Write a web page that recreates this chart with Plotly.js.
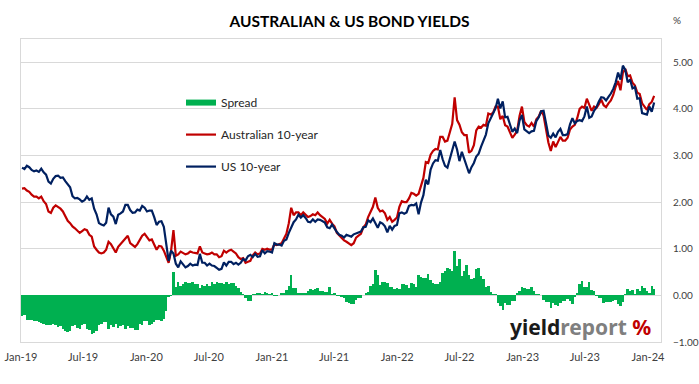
<!DOCTYPE html>
<html>
<head>
<meta charset="utf-8">
<script src="https://cdn.plot.ly/plotly-3.0.1.min.js"></script>
<style>html,body{margin:0;padding:0;background:#fff;}#chart{width:699px;height:384px;}</style>
</head>
<body>
<div id="chart"></div>
<script>
// Weekly observations (Fridays), starting 4 Jan 2019
const startDate = '2019-01-04';

const us2019 = [2.74,2.71,2.78,2.75, 2.69,2.66,2.68,2.65, 2.72,2.64,2.59,2.44,2.40, 2.50,2.56,2.57,2.52, 2.53,2.45,2.39,2.32,2.13, 2.08,2.09,2.06,2.01, 2.04,2.12,2.05,2.08, 1.86,1.74,1.55,1.52,1.50, 1.56,1.88,1.74,1.69, 1.53,1.73,1.76,1.80, 1.94,1.94,1.83,1.77,1.78, 1.84,1.82,1.92,1.88];
const us2020 = [1.80,1.82,1.82,1.68,1.51, 1.58,1.59,1.47,1.15, 0.74,0.96,0.90,0.68, 0.60,0.73,0.65,0.60, 0.63,0.68,0.64,0.66,0.65, 0.89,0.70,0.70,0.64, 0.68,0.64,0.63,0.59,0.55, 0.57,0.71,0.64,0.72, 0.72,0.67,0.70,0.66, 0.70,0.78,0.75,0.84,0.87, 0.82,0.89,0.83,0.84, 0.97,0.90,0.95,0.94];
const us2021 = [0.92,1.12,1.09,1.09,1.07, 1.17,1.20,1.34,1.44, 1.57,1.63,1.73,1.67, 1.72,1.66,1.58,1.57,1.63, 1.58,1.63,1.62,1.59, 1.56,1.46,1.44,1.52, 1.43,1.36,1.30,1.28,1.24, 1.30,1.28,1.26,1.31, 1.33,1.34,1.37,1.46, 1.47,1.61,1.57,1.65,1.56, 1.45,1.57,1.54,1.48, 1.35,1.49,1.41,1.49,1.51];
const us2022 = [1.76,1.78,1.75,1.78, 1.92,1.94,1.93,1.97, 1.74,1.99,2.15,2.48, 2.38,2.70,2.83,2.90,2.89, 3.12,2.92,2.78,2.74, 2.94,3.16,3.30,3.13, 2.88,3.08,2.92,2.78,2.62, 2.75,2.84,2.98,3.04, 3.19,3.31,3.45,3.69,3.80, 3.88,4.01,4.22,4.01, 4.16,3.82,3.83,3.68, 3.51,3.58,3.48,3.75,3.87];
const us2023 = [3.56,3.51,3.48,3.52, 3.53,3.74,3.82,3.95, 3.96,3.70,3.43,3.38,3.47, 3.39,3.51,3.57,3.44, 3.44,3.46,3.67,3.80, 3.69,3.74,3.76,3.74,3.84, 4.05,3.81,3.84,3.96, 4.04,4.16,4.25,4.24, 4.18,4.26,4.33,4.43,4.57, 4.78,4.63,4.93,4.84, 4.57,4.63,4.44,4.47, 4.22,4.23,3.91,3.90,3.88];
const us2024 = [4.05,3.94,4.14];

const au2019 = [2.29,2.30,2.25,2.22, 2.16,2.12,2.12,2.08, 2.12,2.02,1.96,1.80,1.77, 1.88,1.93,1.90,1.86, 1.80,1.68,1.60,1.55,1.48, 1.44,1.38,1.34,1.38, 1.42,1.40,1.30,1.26, 1.05,0.98,0.92,0.90,0.92, 0.98,1.15,1.10,1.02, 0.92,1.04,1.10,1.16, 1.22,1.28,1.12,1.08,1.04, 1.10,1.20,1.28,1.32];
const au2020 = [1.25,1.18,1.20,1.10,0.98, 1.06,1.05,0.96,0.82, 0.70,0.95,1.40,0.85, 0.88,0.94,0.90,0.88, 0.90,0.94,0.92,0.91,0.90, 1.05,0.92,0.90,0.88, 0.89,0.92,0.88,0.88,0.82, 0.84,0.96,0.92,0.96, 0.98,0.94,0.90,0.82, 0.78,0.80,0.70,0.72,0.74, 0.86,0.92,0.88,0.90, 1.00,0.98,1.00,0.98];
const au2021 = [0.98,1.10,1.08,1.10,1.12, 1.22,1.32,1.55,1.88, 1.72,1.78,1.78,1.72, 1.78,1.72,1.68,1.70,1.74, 1.72,1.78,1.72,1.68, 1.64,1.54,1.62,1.54, 1.48,1.34,1.28,1.24,1.18, 1.15,1.12,1.08,1.12, 1.24,1.28,1.32,1.46, 1.52,1.68,1.78,1.90,2.10, 1.88,1.80,1.82,1.76, 1.62,1.68,1.58,1.62,1.67];
const au2022 = [1.90,2.02,2.00,2.00, 2.08,2.20,2.18,2.14, 2.18,2.38,2.52,2.86, 2.84,3.02,3.10,3.14,3.13, 3.40,3.40,3.30,3.32, 3.50,3.68,4.25,3.76, 3.66,3.50,3.44,3.44,3.06, 3.10,3.22,3.54,3.62, 3.60,3.66,3.64,3.90,3.88, 3.92,4.05,4.05,3.78, 3.85,3.65,3.62,3.48, 3.38,3.45,3.53,3.85,4.05];
const au2023 = [3.72,3.65,3.62,3.70, 3.62,3.78,3.84,3.96, 3.86,3.56,3.28,3.10,3.30, 3.18,3.28,3.40,3.32, 3.32,3.38,3.56,3.62, 3.66,3.80,4.00,4.05,4.02, 4.22,4.10,3.96,4.05, 4.02,4.10,4.20,4.08, 4.04,4.12,4.18,4.30,4.48, 4.60,4.40,4.78,4.86, 4.70,4.72,4.56,4.50, 4.35,4.32,4.12,4.06,3.98];
const au2024 = [4.10,4.15,4.28];

const sp2019 = [-0.45,-0.41,-0.53,-0.53, -0.53,-0.54,-0.56,-0.57, -0.60,-0.62,-0.63,-0.64,-0.63, -0.62,-0.63,-0.67,-0.66, -0.73,-0.77,-0.79,-0.77,-0.65, -0.64,-0.71,-0.72,-0.63, -0.62,-0.72,-0.75,-0.82, -0.81,-0.76,-0.63,-0.62,-0.58, -0.58,-0.73,-0.64,-0.67, -0.61,-0.69,-0.66,-0.64, -0.72,-0.66,-0.71,-0.69,-0.74, -0.74,-0.62,-0.64,-0.56];
const sp2020 = [-0.55,-0.64,-0.62,-0.58,-0.53, -0.52,-0.54,-0.51,-0.33, -0.04,-0.01,0.50,0.17, 0.28,0.21,0.25,0.28, 0.27,0.26,0.28,0.25,0.25, 0.16,0.22,0.20,0.24, 0.21,0.28,0.25,0.29,0.27, 0.27,0.25,0.28,0.24, 0.26,0.27,0.20,0.16, 0.08,0.02,-0.05,-0.12,-0.13, 0.04,0.03,0.05,0.06, 0.03,0.08,0.05,0.04];
const sp2021 = [0.06,-0.02,-0.01,0.01,0.05, 0.05,0.12,0.21,0.44, 0.15,0.15,0.05,0.05, 0.06,0.06,0.10,0.13,0.11, 0.14,0.15,0.10,0.09, 0.08,0.08,0.18,0.02, 0.05,-0.02,-0.02,-0.04,-0.06, -0.15,-0.16,-0.18,-0.19, -0.09,-0.06,-0.05,0.00, 0.05,0.07,0.21,0.25,0.54, 0.43,0.23,0.28,0.28, 0.27,0.19,0.17,0.13,0.16];
const sp2022 = [0.14,0.24,0.25,0.22, 0.16,0.26,0.25,0.17, 0.44,0.39,0.37,0.38, 0.46,0.32,0.27,0.24,0.24, 0.28,0.48,0.52,0.58, 0.56,0.52,0.95,0.63, 0.78,0.42,0.52,0.66,0.44, 0.35,0.38,0.56,0.58, 0.41,0.35,0.19,0.21,0.08, 0.04,0.04,-0.17,-0.23, -0.31,-0.17,-0.21,-0.20, -0.13,-0.13,0.05,0.10,0.18];
const sp2023 = [0.16,0.14,0.14,0.18, 0.09,0.04,0.02,0.01, -0.10,-0.14,-0.15,-0.28,-0.17, -0.21,-0.23,-0.17,-0.12, -0.12,-0.08,-0.11,-0.18, -0.03,0.06,0.24,0.31,0.18, 0.17,0.29,0.12,0.09, -0.02,-0.06,-0.05,-0.16, -0.14,-0.14,-0.15,-0.13,-0.09, -0.18,-0.23,-0.15,0.02, 0.13,0.09,0.12,0.03, 0.13,0.09,0.21,0.16,0.10];
const sp2024 = [0.05,0.21,0.14];

const tickDates = ['2019-01-01','2019-07-01','2020-01-01','2020-07-01','2021-01-01','2021-07-01','2022-01-01','2022-07-01','2023-01-01','2023-07-01','2024-01-01'];
const tickLabels = ['Jan-19','Jul-19','Jan-20','Jul-20','Jan-21','Jul-21','Jan-22','Jul-22','Jan-23','Jul-23','Jan-24'];
const yTicks = [-1,0,1,2,3,4,5];

const us = [].concat(us2019, us2020, us2021, us2022, us2023, us2024);
const au = [].concat(au2019, au2020, au2021, au2022, au2023, au2024);
const spread = [].concat(sp2019, sp2020, sp2021, sp2022, sp2023, sp2024);

const t0 = Date.parse(startDate + 'T00:00:00Z');
const dates = us.map((_, i) => new Date(t0 + i * 7 * 86400000).toISOString().slice(0, 10));

const font = 'Lato, "Liberation Sans", sans-serif';
const GREEN = '#00B050', RED = '#C00000', NAVY = '#002060', GRID = '#D9D9D9';

const traces = [
  {type: 'bar', x: dates, y: spread, marker: {color: GREEN, line: {width: 0}}, showlegend: false, name: 'Spread', legendgroup: 'a', hoverinfo: 'skip'},
  {type: 'scatter', mode: 'lines', x: [null], y: [null], name: 'Spread', line: {color: GREEN, width: 6}, legendgroup: 'a'},
  {type: 'scatter', mode: 'lines', x: dates, y: au, name: 'Australian 10-year', line: {color: RED, width: 2.2}, legendgroup: 'b'},
  {type: 'scatter', mode: 'lines', x: dates, y: us, name: 'US 10-year', line: {color: NAVY, width: 2.2}, legendgroup: 'c'}
];

const layout = {
  width: 699, height: 384,
  margin: {l: 21, r: 38, t: 39, b: 42},
  paper_bgcolor: '#fff', plot_bgcolor: '#fff',
  bargap: 0,
  hovermode: false,
  title: {text: '<b>AUSTRALIAN &amp; US BOND YIELDS</b>', font: {family: font, size: 15.5, color: '#000'}, x: 0.5, xref: 'container', y: 0.945, yref: 'container', yanchor: 'middle'},
  xaxis: {type: 'date', range: ['2019-01-01', '2024-02-08'], tickvals: tickDates, ticktext: tickLabels,
          showgrid: false, zeroline: false, showline: true, mirror: true, linecolor: GRID, linewidth: 1,
          ticks: '', ticklabelstandoff: 5, tickfont: {family: font, size: 11, color: '#404040'}},
  yaxis: {side: 'right', range: [-1, 5.5], tickvals: yTicks, tickformat: '.2f',
          showgrid: true, gridcolor: GRID, gridwidth: 1, zeroline: true, zerolinecolor: GRID, zerolinewidth: 1,
          showline: true, mirror: true, linecolor: GRID, linewidth: 1, ticks: '', ticklabelstandoff: 9,
          tickfont: {family: font, size: 10, color: '#404040'}},
  legend: {x: 0.25, y: 0.838, xanchor: 'left', yanchor: 'top', bgcolor: 'rgba(0,0,0,0)',
           font: {family: font, size: 12, color: '#262626'}, itemwidth: 30, tracegroupgap: 13, traceorder: 'grouped'},
  annotations: [
    {xref: 'paper', yref: 'paper', x: 1.034, y: 1.089, text: '%', showarrow: false, font: {family: font, size: 10, color: '#404040'}},
    {xref: 'paper', yref: 'paper', x: 0.9875, y: 0.05, xanchor: 'right', yanchor: 'middle', showarrow: false,
     text: '<b><span style="color:#1a1a1a">yield</span><span style="color:#7f7f7f">report</span> <span style="color:#C00000">%</span></b>',
     font: {family: '"Noto Sans", sans-serif', size: 21}}
  ]
};

Plotly.newPlot('chart', traces, layout, {staticPlot: true, displayModeBar: false});
</script>
</body>
</html>
